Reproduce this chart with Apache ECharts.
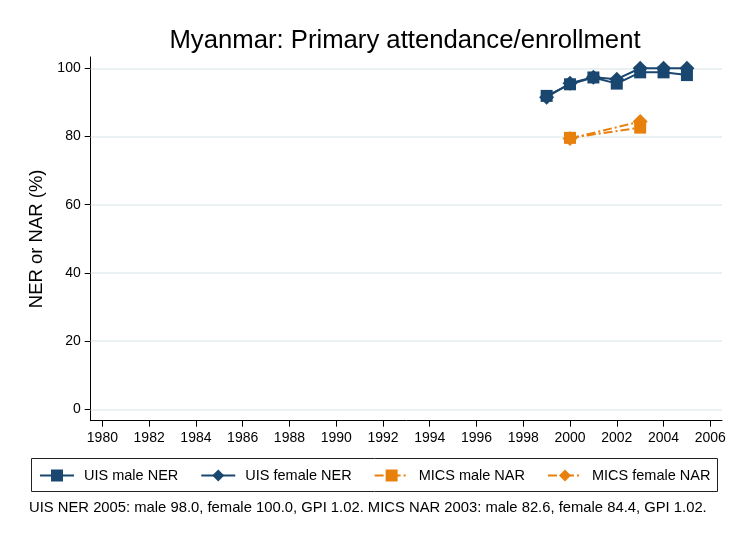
<!DOCTYPE html>
<html>
<head>
<meta charset="utf-8">
<script src="https://cdn.jsdelivr.net/npm/echarts@6/dist/echarts.min.js"></script>
<style>
html,body{margin:0;padding:0;background:#fff;}
#chart{width:732px;height:538px;}
</style>
</head>
<body>
<div id="chart"></div>
<script>
// ---- data ----
var uisYears = [1999, 2000, 2001, 2002, 2003, 2004, 2005];
var uisMale = [91.9, 95.3, 97.3, 95.5, 98.8, 98.8, 98.0];
var uisFemale = [91.5, 95.6, 97.4, 96.8, 100.0, 100.0, 100.0];
var micsYears = [2000, 2003];
var micsMale = [79.6, 82.6];
var micsFemale = [79.4, 84.4];
var xTicks = [1980, 1982, 1984, 1986, 1988, 1990, 1992, 1994, 1996, 1998, 2000, 2002, 2004, 2006];
var yTicks = [0, 20, 40, 60, 80, 100];
var seriesNames = ['UIS male NER', 'UIS female NER', 'MICS male NAR', 'MICS female NAR'];
var titleText = 'Myanmar: Primary attendance/enrollment';
var yTitle = 'NER or NAR (%)';
var noteText = 'UIS NER 2005: male 98.0, female 100.0, GPI 1.02. MICS NAR 2003: male 82.6, female 84.4, GPI 1.02.';

function pairs(xs, ys) { return xs.map(function (x, i) { return [x, ys[i]]; }); }

var FONT = "'Liberation Sans', Arial, Helvetica, sans-serif";
var NAVY = '#1a476f';
var ORANGE = '#e8800d';
var GRID = '#e3edef';

var chart = echarts.init(document.getElementById('chart'), null, {renderer: 'canvas'});

var option = {
  backgroundColor: '#ffffff',
  animation: false,
  textStyle: {fontFamily: FONT},
  title: {
    text: titleText,
    left: 405, textAlign: 'center', top: 28, padding: 0,
    textStyle: {fontFamily: FONT, fontSize: 25.7, fontWeight: 'normal', color: '#000'}
  },
  grid: {left: 90.7, right: 10, top: 57, bottom: 117.3, containLabel: false},
  xAxis: {
    type: 'value', min: 1979.5, max: 2006.5,
    axisLine: {show: true, onZero: false, lineStyle: {color: '#000', width: 1}},
    axisTick: {show: true, customValues: xTicks, length: 6, lineStyle: {color: '#000'}},
    axisLabel: {show: true, customValues: xTicks, margin: 10, fontSize: 14, color: '#000', fontFamily: FONT,
      formatter: function (v) { return String(v); }},
    splitLine: {show: false}
  },
  yAxis: {
    type: 'value', min: -3.3, max: 103.3,
    name: yTitle, nameLocation: 'middle', nameGap: 41,
    nameTextStyle: {fontSize: 18.5, color: '#000', fontFamily: FONT},
    axisLine: {show: true, onZero: false, lineStyle: {color: '#000', width: 1}},
    axisTick: {show: true, customValues: yTicks, length: 6, lineStyle: {color: '#000'}},
    axisLabel: {show: true, customValues: yTicks, margin: 10, fontSize: 14, color: '#000', fontFamily: FONT,
      formatter: function (v) { return String(v); }},
    splitLine: {show: false}
  },
  legend: {
    left: 39, top: 468, padding: 0, itemWidth: 34, itemHeight: 15, itemGap: 22,
    data: seriesNames,
    textStyle: {fontSize: 14.5, color: '#000', fontFamily: FONT, padding: [0, 0, 0, 5]}
  },
  graphic: [
    {type: 'rect', shape: {x: 31.5, y: 458.5, width: 686, height: 33}, style: {fill: 'none', stroke: '#222', lineWidth: 1}, z: -1},
    {type: 'text', left: 29, top: 500, style: {text: noteText, font: '14.8px ' + FONT, fill: '#000'}}
  ],
  series: [
    {
      name: seriesNames[0], type: 'line', data: pairs(uisYears, uisMale),
      symbol: 'rect', symbolSize: 12, z: 3,
      lineStyle: {color: NAVY, width: 2}, itemStyle: {color: NAVY},
      markLine: {
        silent: true, symbol: 'none', label: {show: false}, z: 1,
        lineStyle: {color: GRID, width: 1.5, type: 'solid'},
        data: yTicks.map(function (v) { return {yAxis: v}; })
      }
    },
    {
      name: seriesNames[1], type: 'line', data: pairs(uisYears, uisFemale),
      symbol: 'diamond', symbolSize: 15, z: 4,
      lineStyle: {color: NAVY, width: 2}, itemStyle: {color: NAVY}
    },
    {
      name: seriesNames[2], type: 'line', data: pairs(micsYears, micsMale),
      symbol: 'rect', symbolSize: 12, z: 3,
      lineStyle: {color: ORANGE, width: 2, type: [9, 3, 2, 3]}, itemStyle: {color: ORANGE}
    },
    {
      name: seriesNames[3], type: 'line', data: pairs(micsYears, micsFemale),
      symbol: 'diamond', symbolSize: 15, z: 4,
      lineStyle: {color: ORANGE, width: 2, type: [9, 3, 2, 3]}, itemStyle: {color: ORANGE}
    }
  ]
};
chart.setOption(option);
</script>
</body>
</html>
